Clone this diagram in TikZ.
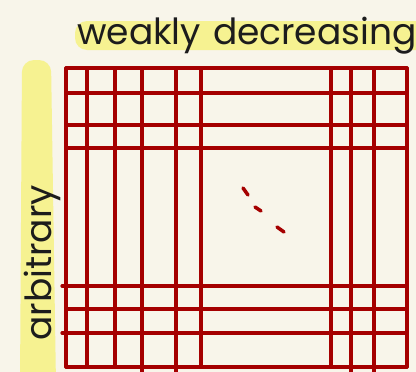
\documentclass[tikz,border=0pt]{standalone}
\usepackage{fontspec}
\setmainfont{Poppins}
\definecolor{paper}{HTML}{F8F5EA}
\definecolor{gridred}{HTML}{A50000}
\definecolor{marker}{HTML}{F6F291}
\definecolor{ink}{HTML}{1C1C1C}

\begin{document}
\begin{tikzpicture}[x=1pt,y=-1pt,
  gridline/.style={line width=3.2pt,gridred,line cap=round},
  hand/.style={ink,inner sep=0pt,font=\fontsize{36}{40}\selectfont}]
  \fill[paper] (0,0) rectangle (416,372);
  \useasboundingbox (0,0) rectangle (416,372);
  % highlighter
  \fill[marker,rounded corners=12pt] (75,21) rectangle (430,50);
  \fill[marker,rounded corners=12pt] (22,60) -- (51,60) -- (56,385) -- (20,385) -- cycle;
  % labels
  \node[hand,anchor=base west] (weak) at (77,45) {weakly\hspace{12pt}decreasing};
  \node[hand,rotate=90,anchor=base] (arb) at (52,263) {arbitrary};
  % grid
  \foreach \gx/\gend in {66/367,87/367,115/367,142/375,176/375,201/367,331/367,351/375,374/375,407/367}
    \draw[gridline] (\gx,68) -- (\gx,\gend);
  \foreach \gy/\gstart in {68/66,93/66,125/66,148/66,286/62,309/66,333/62,367/66}
    \draw[gridline] (\gstart,\gy) -- (407,\gy);
  % dots
  \draw[gridline,line width=3.5pt] (243,188) -- (248,195);
  \draw[gridline,line width=3.5pt] (255,207) -- (261,211);
  \draw[gridline,line width=3.5pt] (277,227) -- (284,232);
\end{tikzpicture}
\end{document}
